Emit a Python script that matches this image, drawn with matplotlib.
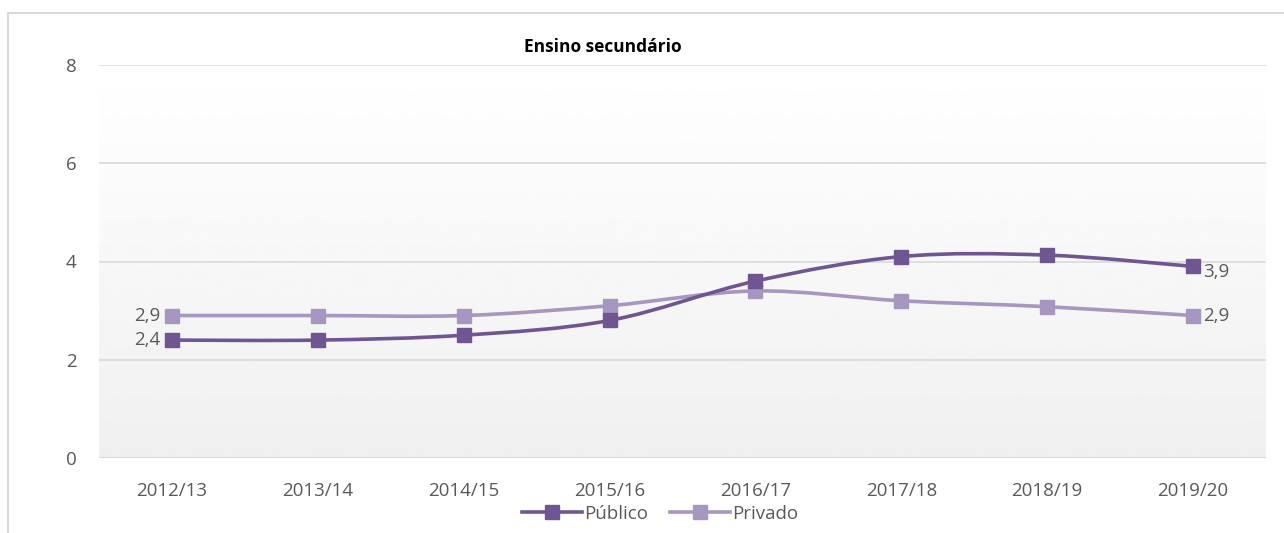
import numpy as np
import matplotlib.pyplot as plt
from matplotlib.path import Path
from matplotlib.patches import PathPatch
from matplotlib.lines import Line2D

# data
years = ["2012/13", "2013/14", "2014/15", "2015/16", "2016/17", "2017/18", "2018/19", "2019/20"]
publico = [2.4, 2.4, 2.5, 2.8, 3.6, 4.1, 4.13, 3.9]
privado = [2.9, 2.9, 2.9, 3.1, 3.4, 3.2, 3.08, 2.9]

c_pub = "#6f5591"
c_priv = "#a797c0"
txt = "#595959"
grid_c = "#d9d9d9"

plt.rcParams['font.family'] = ['Open Sans', 'DejaVu Sans']
fs = 13.5

fig = plt.figure(figsize=(12.84, 5.33), dpi=100)
ax = fig.add_axes([99 / 1284, 75 / 533, (1266 - 99) / 1284, (458 - 65) / 533])

# gradient background of plot area
grad = np.linspace(1.0, 0.94, 256).reshape(-1, 1)
ax.imshow(grad, extent=[-0.5, 7.5, 0, 8], aspect='auto', cmap='gray',
          vmin=0, vmax=1, zorder=0, origin='upper')


def smooth_path(xs, ys, t=1 / 6):
    # excel-like smoothed line as cubic bezier segments
    verts = [(xs[0], ys[0])]
    codes = [Path.MOVETO]
    n = len(xs)
    for i in range(n - 1):
        x0, y0 = (xs[i - 1], ys[i - 1]) if i > 0 else (xs[i], ys[i])
        x1, y1 = xs[i], ys[i]
        x2, y2 = xs[i + 1], ys[i + 1]
        x3, y3 = (xs[i + 2], ys[i + 2]) if i + 2 < n else (x2, y2)
        verts += [(x1 + (x2 - x0) * t, y1 + (y2 - y0) * t),
                  (x2 - (x3 - x1) * t, y2 - (y3 - y1) * t),
                  (x2, y2)]
        codes += [Path.CURVE4] * 3
    return Path(verts, codes)


x = np.arange(len(years))
for vals, col in [(privado, c_priv), (publico, c_pub)]:
    ax.add_patch(PathPatch(smooth_path(x, vals), fill=False, edgecolor=col,
                           lw=2.6, zorder=3, capstyle='round'))
    ax.plot(x, vals, ls='none', marker='s', ms=10, color=col, zorder=4)

# data labels
def fmt(v):
    return f"{v:.1f}".replace('.', ',')

ax.text(x[0] - 0.08, privado[0], fmt(privado[0]), ha='right', va='center', fontsize=fs, color=txt)
ax.text(x[0] - 0.08, publico[0], fmt(publico[0]), ha='right', va='center', fontsize=fs, color=txt)
ax.text(x[-1] + 0.07, privado[-1], fmt(privado[-1]), ha='left', va='center', fontsize=fs, color=txt)
ax.text(x[-1] + 0.07, publico[-1] - 0.12, fmt(publico[-1]), ha='left', va='center', fontsize=fs, color=txt)

ax.set_xlim(-0.5, 7.5)
ax.set_ylim(0, 8)
ax.set_xticks(x)
ax.set_xticklabels(years)
ax.set_yticks([0, 2, 4, 6, 8])
ax.tick_params(length=0, labelsize=fs, colors=txt, pad=17)
ax.tick_params(axis='y', pad=16)
ax.grid(axis='y', color=grid_c, lw=1.2, zorder=1)
ax.set_axisbelow(False)
for s in ax.spines.values():
    s.set_visible(False)
ax.axhline(0, color=grid_c, lw=1.5, zorder=2)

fig.text(603 / 1284, 1 - 47 / 533, "Ensino secundário", ha='center', va='center',
         fontsize=12.5, fontweight='bold', color='black')

handles = [Line2D([], [], color=c_pub, lw=2.6, marker='s', ms=10, label='Público'),
           Line2D([], [], color=c_priv, lw=2.6, marker='s', ms=10, label='Privado')]
fig.legend(handles=handles, loc='center', bbox_to_anchor=(660 / 1284, 1 - 514 / 533),
           ncol=2, frameon=False, fontsize=fs, labelcolor=txt, handlelength=3.2,
           handletextpad=0.1, columnspacing=1.2)

# chart border (top and left edges visible)
fig.add_artist(Line2D([8 / 1284, 1], [1 - 13 / 533, 1 - 13 / 533], color=grid_c, lw=1.5))
fig.add_artist(Line2D([8 / 1284, 8 / 1284], [0, 1 - 13 / 533], color=grid_c, lw=1.5))

fig.savefig("out.png", dpi=100)
